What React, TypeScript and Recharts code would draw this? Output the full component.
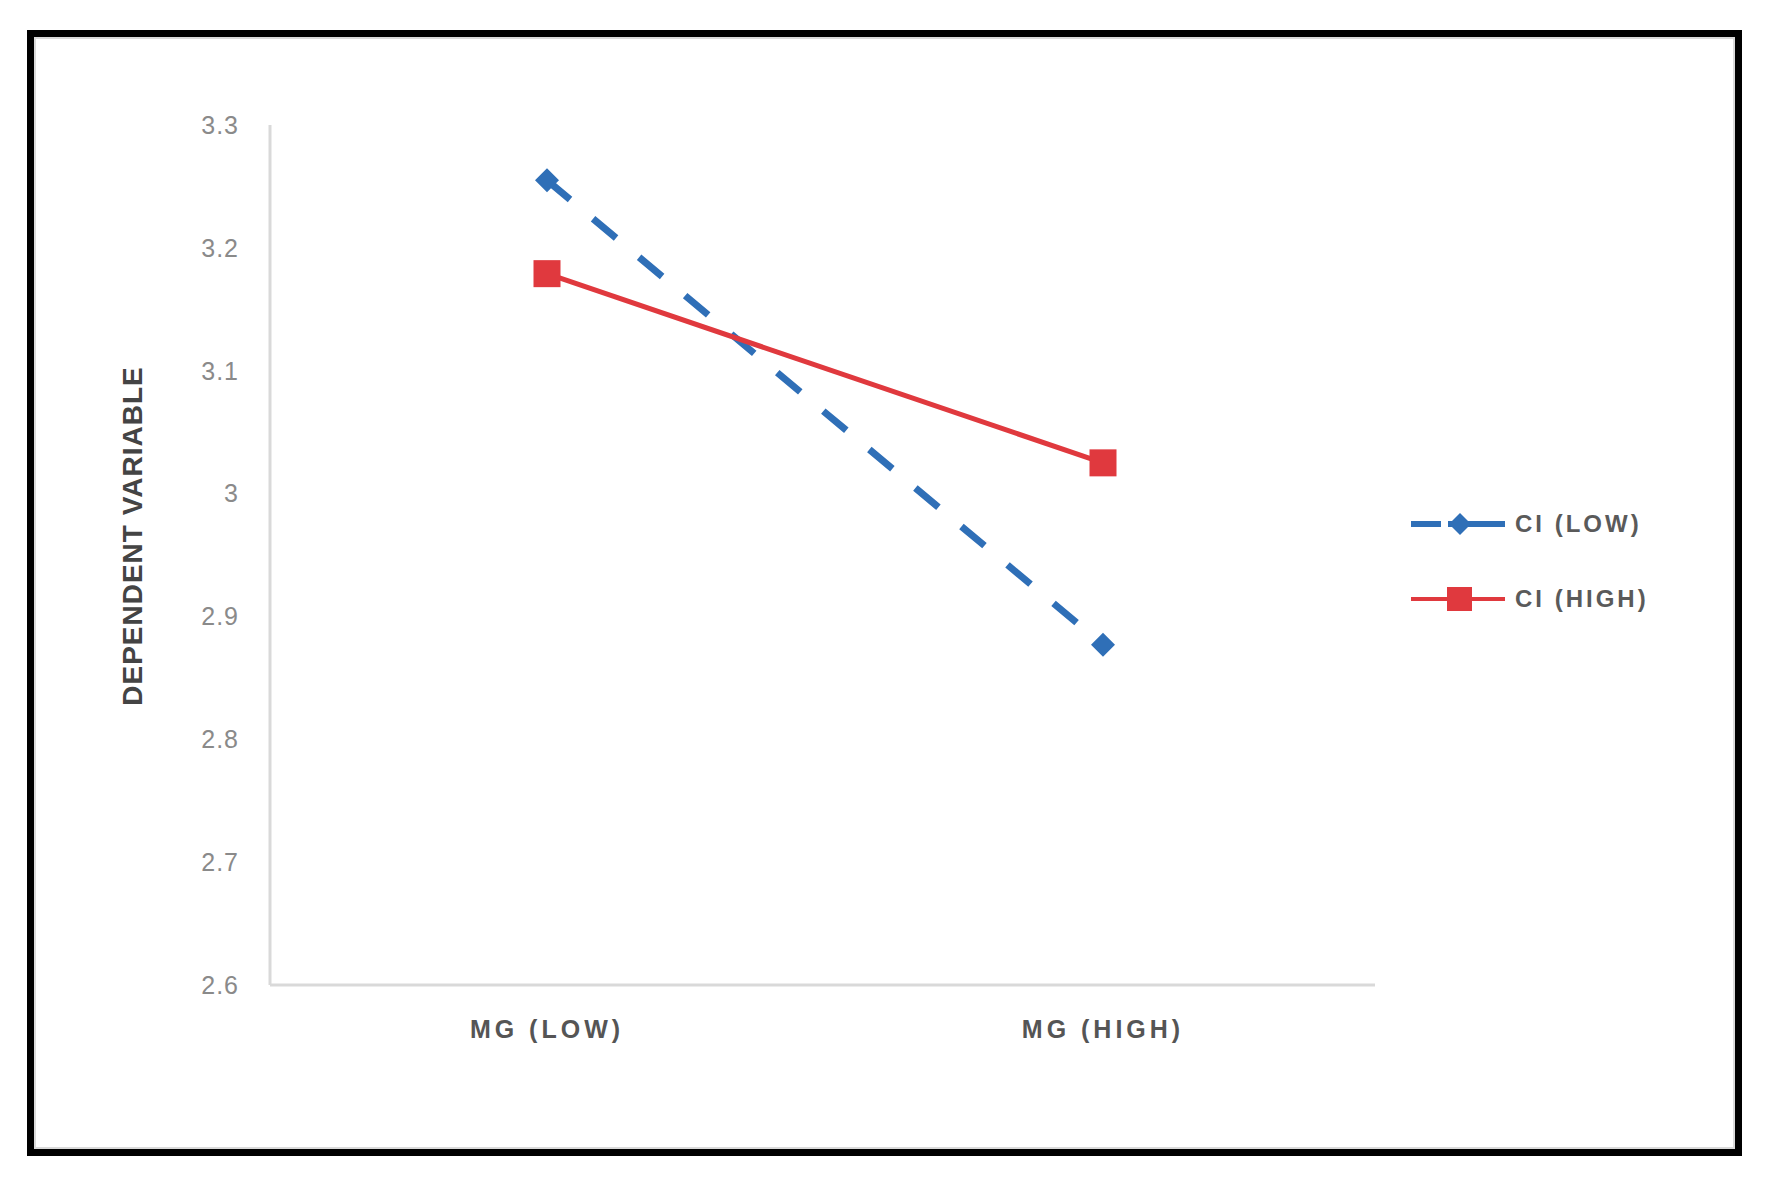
import React from 'react';
import { LineChart, Line, XAxis, YAxis, Legend, Label } from 'recharts';

const categories = ['MG (LOW)', 'MG (HIGH)'];
const ciLow = [3.255, 2.877];
const ciHigh = [3.179, 3.025];
const yTicks = [2.6, 2.7, 2.8, 2.9, 3.0, 3.1, 3.2, 3.3];

const BLUE = '#2f6fb7';
const RED = '#e0393e';

const data = categories.map((c, i) => ({ name: c, low: ciLow[i], high: ciHigh[i] }));

const Diamond = (props: any) => {
  const { cx, cy } = props;
  if (cx == null || cy == null) return null;
  const r = 12;
  return <path d={`M${cx},${cy - r}L${cx + r},${cy}L${cx},${cy + r}L${cx - r},${cy}Z`} fill={BLUE} />;
};

const Square = (props: any) => {
  const { cx, cy } = props;
  if (cx == null || cy == null) return null;
  const s = 27;
  return <rect x={cx - s / 2} y={cy - s / 2} width={s} height={s} fill={RED} />;
};

const legendItems = [
  { label: 'CI (LOW)', color: BLUE, dash: '30 7 200', shape: 'diamond' },
  { label: 'CI (HIGH)', color: RED, dash: undefined, shape: 'square' },
];

const LegendBox = () => (
  <div style={{ display: 'flex', flexDirection: 'column' }}>
    {legendItems.map((it) => (
      <div key={it.label} style={{ display: 'flex', alignItems: 'center', height: 75 }}>
        <svg width={94} height={30}>
          <line x1={0} y1={15} x2={94} y2={15} stroke={it.color} strokeWidth={it.dash ? 6 : 4} strokeDasharray={it.dash} />
          {it.shape === 'diamond' ? (
            <path d="M49,4L60,15L49,26L38,15Z" fill={it.color} />
          ) : (
            <rect x={36} y={3} width={25} height={24} fill={it.color} />
          )}
        </svg>
        <span style={{ marginLeft: 10, fontFamily: 'Liberation Sans, Arial, sans-serif', fontSize: 24, fontWeight: 'bold', color: '#5a5a5a', letterSpacing: 3 }}>
          {it.label}
        </span>
      </div>
    ))}
  </div>
);

export default function App() {
  return (
    <div style={{ position: 'absolute', left: 0, top: 0, width: 1770, height: 1185, background: '#fff' }}>
      <div
        style={{
          position: 'absolute', left: 27, top: 30, width: 1715, height: 1126,
          border: '7px solid #000', boxSizing: 'border-box', boxShadow: 'inset 0 0 0 2px #dadada',
        }}
      />
      <div style={{ position: 'absolute', left: 0, top: 0 }}>
        <LineChart width={1770} height={1185} data={data} margin={{ top: 125, right: 395, bottom: 120, left: 190 }}>
          <XAxis
            dataKey="name"
            height={80}
            padding={{ left: 277, right: 272 }}
            axisLine={{ stroke: '#d9d9d9', strokeWidth: 3 }}
            tickLine={false}
            tickSize={0}
            tickMargin={35}
            tick={{ fontSize: 25, fontWeight: 'bold', fill: '#555', fontFamily: 'Liberation Sans, Arial, sans-serif', letterSpacing: 4 }}
          />
          <YAxis
            width={80}
            domain={[2.6, 3.3]}
            ticks={yTicks}
            interval={0}
            axisLine={{ stroke: '#d9d9d9', strokeWidth: 3 }}
            tickLine={false}
            tickSize={0}
            tickMargin={31}
            tick={{ fontSize: 25, fill: '#8a8a8a', fontFamily: 'Liberation Sans, Arial, sans-serif', letterSpacing: 1 }}
          >
            <Label
              value="DEPENDENT VARIABLE"
              angle={-90}
              position="center"
              dx={-98}
              dy={-19}
              style={{ fontSize: 28, fill: '#444', fontFamily: 'Liberation Sans, Arial, sans-serif', fontWeight: 'bold', letterSpacing: 1 }}
            />
          </YAxis>
          <Legend
            layout="vertical"
            align="center"
            verticalAlign="middle"
            content={<LegendBox />}
            wrapperStyle={{ left: 1411, top: 486, width: 320 }}
          />
          <Line
            dataKey="low"
            name="CI (LOW)"
            stroke={BLUE}
            strokeWidth={7}
            strokeDasharray="30 30"
            dot={<Diamond />}
            activeDot={false}
            isAnimationActive={false}
          />
          <Line
            dataKey="high"
            name="CI (HIGH)"
            stroke={RED}
            strokeWidth={5}
            dot={<Square />}
            activeDot={false}
            isAnimationActive={false}
          />
        </LineChart>
      </div>
    </div>
  );
}
